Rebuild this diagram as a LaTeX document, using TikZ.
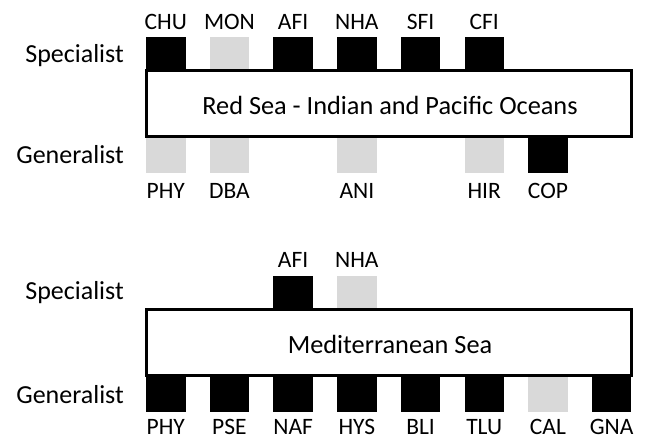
\documentclass[tikz,border=0pt]{standalone}
\usepackage{fontspec}
\setmainfont{Carlito}
\tikzset{
  barbase/.style={inner sep=0pt, outer sep=0pt, minimum width=39.5pt, anchor=north west},
  blackbar/.style={barbase, fill=black},
  graybar/.style={barbase, fill=gray!30},
  barlab/.style={font=\fontsize{23.5}{23.5}\selectfont, anchor=base, inner sep=0pt},
  sidelab/.style={font=\fontsize{26}{26}\selectfont, anchor=base east, inner sep=0pt},
  seabox/.style={draw=black, line width=3pt, fill=white, minimum width=485pt, minimum height=66pt, inner sep=0pt},
  seatext/.style={font=\fontsize{26.3}{26.3}\selectfont, anchor=base, inner sep=0pt},
}
\begin{document}
\begin{tikzpicture}[x=1pt, y=-1pt]
\useasboundingbox (0,0) rectangle (648,440);
% ---------- top panel ----------
\foreach \i/\n/\c in {0/CHU/blackbar,1/MON/graybar,2/AFI/blackbar,3/NHA/blackbar,4/SFI/blackbar,5/CFI/blackbar}{
  \node[\c, minimum height=35pt] (ts\n) at ({146+63.7*\i},37) {};
  \node[barlab] (tsl\n) at ({165.75+63.7*\i},29) {\n};
}
\foreach \i/\n/\c in {0/PHY/graybar,1/DBA/graybar,3/ANI/graybar,5/HIR/graybar,6/COP/blackbar}{
  \node[\c, minimum height=37pt] (tg\n) at ({146+63.7*\i},136) {};
  \node[barlab] (tgl\n) at ({165.75+63.7*\i},198) {\n};
}
\node[seabox] (redsea) at (389,103.5) {};
\node[seatext] (redseatext) at (390,114) {Red Sea - Indian and Pacific Oceans};
\node[sidelab] (tspec) at (124,62) {Specialist};
\node[sidelab] (tgen) at (124,163) {Generalist};
% ---------- bottom panel ----------
\foreach \i/\n/\c in {2/AFI/blackbar,3/NHA/graybar}{
  \node[\c, minimum height=35pt] (bs\n) at ({146+63.7*\i},275.5) {};
  \node[barlab] (bsl\n) at ({165.75+63.7*\i},267) {\n};
}
\foreach \i/\n/\c in {0/PHY/blackbar,1/PSE/blackbar,2/NAF/blackbar,3/HYS/blackbar,4/BLI/blackbar,5/TLU/blackbar,6/CAL/graybar,7/GNA/blackbar}{
  \node[\c, minimum height=37pt] (bg\n) at ({146+63.7*\i},375) {};
  \node[barlab] (bgl\n) at ({165.75+63.7*\i},434.5) {\n};
}
\node[seabox] (medsea) at (389,342.5) {};
\node[seatext] (medseatext) at (390,353) {Mediterranean Sea};
\node[sidelab] (bspec) at (124,299) {Specialist};
\node[sidelab] (bgen) at (124,403) {Generalist};
\end{tikzpicture}
\end{document}
